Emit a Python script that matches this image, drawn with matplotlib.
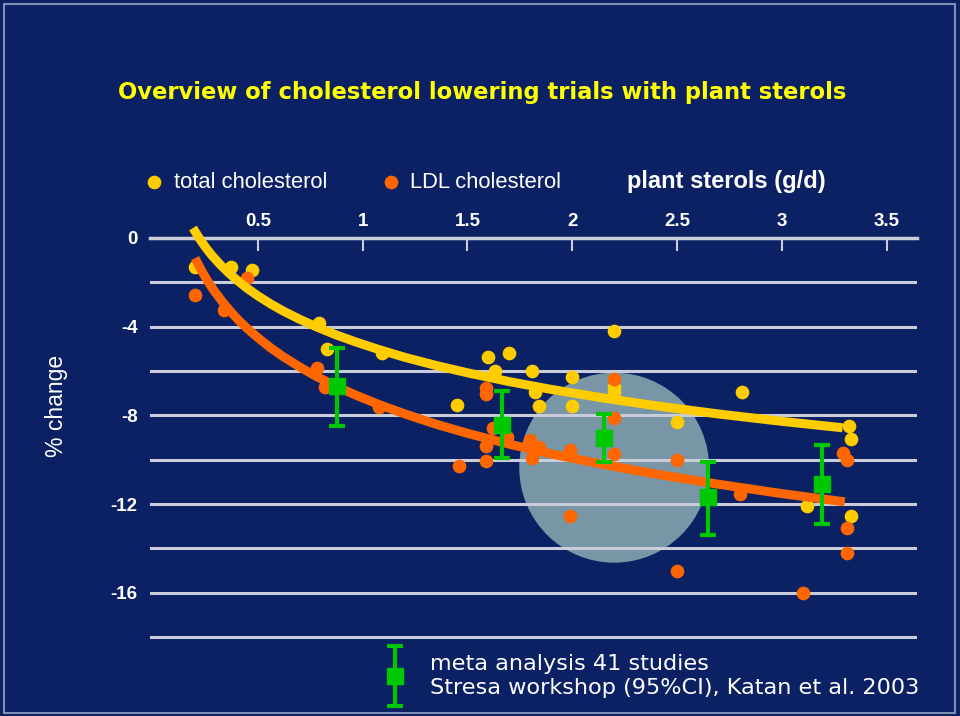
import matplotlib
matplotlib.use("Agg")
import matplotlib.pyplot as plt
import numpy as np
from matplotlib.patches import Ellipse, Rectangle
from matplotlib.legend_handler import HandlerErrorbar
from matplotlib.container import ErrorbarContainer

BG = '#0b2163'
GRID = '#c8cdd9'
YELLOW = '#ffcc00'
ORANGE = '#ff6600'
GREEN = '#00c800'

# individual trials, total cholesterol (% change vs plant sterol dose g/d)
tc_x = [0.20, 0.37, 0.47, 0.79, 0.83, 1.09, 1.45, 1.60, 1.70, 1.63, 1.81, 1.82,
        1.84, 2.00, 2.00, 2.20, 2.20, 2.20, 2.50, 2.81, 3.12, 3.32, 3.33, 3.33]
tc_y = [-1.31, -1.31, -1.44, -3.83, -5.00, -5.18, -7.52, -5.36, -5.18, -6.00, -6.00, -6.95,
        -7.58, -6.27, -7.58, -4.19, -6.72, -6.95, -8.29, -6.95, -12.09, -8.47, -9.06, -12.54]

# individual trials, LDL cholesterol
ldl_x = [0.20, 0.45, 0.34, 0.78, 0.82, 1.08, 1.59, 1.59, 1.62, 1.59, 1.59, 1.46,
         1.69, 1.80, 1.84, 1.81, 1.99, 1.99, 1.99, 2.20, 2.20, 2.20, 2.50, 2.50,
         2.80, 3.29, 3.31, 3.31, 3.31, 3.10]
ldl_y = [-2.57, -1.80, -3.25, -5.86, -6.72, -7.62, -6.77, -7.04, -8.56, -9.38, -10.05, -10.29,
         -8.97, -9.11, -9.42, -9.92, -9.56, -9.70, -12.54, -6.36, -8.11, -9.74, -10.00, -15.00,
         -11.53, -9.70, -10.00, -13.06, -14.19, -16.00]

# fitted curves
tc_fit_x = [0.19, 0.22, 0.25, 0.28, 0.32, 0.36, 0.40, 0.45, 0.50, 0.56, 0.62, 0.70,
            0.78, 0.87, 0.97, 1.08, 1.20, 1.35, 1.50, 1.70, 1.90, 2.15, 2.40, 2.70,
            3.00, 3.29]
tc_fit_y = [0.45, -0.01, -0.42, -0.78, -1.20, -1.57, -1.90, -2.28, -2.61, -2.97, -3.29, -3.67,
            -4.01, -4.36, -4.70, -5.04, -5.38, -5.75, -6.08, -6.48, -6.83, -7.22, -7.57, -7.94,
            -8.27, -8.56]
ldl_fit_x = [0.20, 0.23, 0.26, 0.29, 0.33, 0.37, 0.41, 0.45, 0.50, 0.56, 0.62, 0.70,
             0.78, 0.87, 0.97, 1.08, 1.20, 1.35, 1.50, 1.70, 1.90, 2.15, 2.40, 2.70,
             3.00, 3.30]
ldl_fit_y = [-0.91, -1.46, -1.94, -2.37, -2.87, -3.32, -3.73, -4.09, -4.50, -4.95, -5.35, -5.82,
             -6.25, -6.67, -7.10, -7.52, -7.93, -8.40, -8.81, -9.30, -9.74, -10.22, -10.65, -11.11,
             -11.53, -11.90]

# meta analysis (Katan et al. 2003), mean and 95% CI
meta_x = [0.877, 1.664, 2.15, 2.65, 3.19]
meta_y = [-6.67, -8.42, -9.00, -11.70, -11.08]
meta_hi = [-4.95, -6.89, -7.93, -10.09, -9.32]
meta_lo = [-8.47, -9.91, -10.09, -13.38, -12.88]

# highlighted region
circle_center = (2.20, -10.36)
circle_size = (0.906, 8.57)

x_ticks = [0.5, 1, 1.5, 2, 2.5, 3, 3.5]
x_ticklabels = ['0.5', '1', '1.5', '2', '2.5', '3', '3.5']
y_major = [0, -4, -8, -12, -16]
y_minor = [-2, -6, -10, -14, -18]

fig = plt.figure(figsize=(9.6, 7.16), dpi=100, facecolor=BG)
ax = fig.add_axes([150/960, (716-641.5)/716, (917-150)/960, (641.5-238)/716])
ax.set_facecolor(BG)
ax.set_xlim(-0.015, 3.645)
ax.set_ylim(-18.2, 0)

ax.add_patch(Ellipse(circle_center, circle_size[0], circle_size[1],
                     facecolor='#7896a6', edgecolor='none', zorder=0.3))

sc_tc = ax.scatter(tc_x, tc_y, s=78, color=YELLOW, zorder=3, clip_on=False,
                   label='total cholesterol')
sc_ldl = ax.scatter(ldl_x, ldl_y, s=78, color=ORANGE, zorder=3, clip_on=False,
                    label='LDL cholesterol')
ax.plot(tc_fit_x, tc_fit_y, color=YELLOW, lw=6.5, zorder=4, clip_on=False,
        solid_capstyle='butt', solid_joinstyle='round')
ax.plot(ldl_fit_x, ldl_fit_y, color=ORANGE, lw=6.5, zorder=4, clip_on=False,
        solid_capstyle='butt', solid_joinstyle='round')

meta_y_a = np.array(meta_y)
yerr = [meta_y_a - np.array(meta_lo), np.array(meta_hi) - meta_y_a]
eb = ax.errorbar(meta_x, meta_y, yerr=yerr, fmt='s', color=GREEN, ms=11.5,
                 elinewidth=3, capsize=6, capthick=3, zorder=5)

# axes styling
for s in ['left', 'right', 'bottom']:
    ax.spines[s].set_visible(False)
ax.spines['top'].set_color(GRID)
ax.spines['top'].set_linewidth(2.5)
ax.spines['top'].set_zorder(1)

ax.xaxis.tick_top()
ax.set_xticks(x_ticks)
ax.set_xticklabels(x_ticklabels, fontfamily='Liberation Sans', fontweight='bold', fontsize=13.5)
ax.tick_params(axis='x', direction='in', length=9, width=1.5, color=GRID,
               labelcolor='white', pad=6)

ax.set_yticks(y_major)
ax.set_yticklabels([str(v) for v in y_major], fontfamily='Liberation Sans',
                   fontweight='bold', fontsize=13.5)
ax.set_yticks(y_minor, minor=True)
ax.tick_params(axis='y', which='both', length=0, labelcolor='white', pad=9)
ax.set_axisbelow(True)
ax.yaxis.grid(True, which='both', color=GRID, lw=2.2)

ax.set_ylabel('% change', color='white', fontfamily='Liberation Sans', fontsize=16.5)
ax.yaxis.set_label_coords(-0.107, 0.585)
ax.xaxis.set_label_position('top')
ax.set_xlabel('plant sterols (g/d)', color='white', fontfamily='Liberation Sans',
              fontweight='bold', fontsize=17)
ax.xaxis.set_label_coords(0.752, 1.125)

# legends
leg1 = ax.legend(handles=[sc_tc, sc_ldl], ncol=2, loc='center left',
                 bbox_to_anchor=(143/960, (716-182)/716), bbox_transform=fig.transFigure,
                 frameon=False, labelcolor='white', handlelength=1.0, handletextpad=0.4,
                 columnspacing=2.4, borderpad=0, borderaxespad=0,
                 prop={'family': 'Liberation Sans', 'size': 15.8})
ax.add_artist(leg1)

leg2 = ax.legend(handles=[eb],
                 labels=['meta analysis 41 studies\nStresa workshop (95%CI), Katan et al. 2003'],
                 loc='center left', bbox_to_anchor=(383/960, (716-676)/716),
                 bbox_transform=fig.transFigure, frameon=False, labelcolor='white',
                 handlelength=1.1, handletextpad=1.0, borderpad=0, borderaxespad=0,
                 numpoints=1, prop={'family': 'DejaVu Sans', 'size': 16.1},
                 handler_map={ErrorbarContainer: HandlerErrorbar(yerr_size=1.33)})
for t in leg2.get_texts():
    t.set_linespacing(1.25)

fig.text(118/960, 1 - 93/716, 'Overview of cholesterol lowering trials with plant sterols',
         color='#ffff00', fontfamily='DejaVu Sans', fontweight='bold', fontsize=16.3,
         ha='left', va='center')

fig.add_artist(Rectangle((4/960, 3/716), 951/960, 709/716, transform=fig.transFigure,
                         fill=False, edgecolor='#7f8fb0', lw=1.5))

fig.savefig('out.png', dpi=100, facecolor=BG)
